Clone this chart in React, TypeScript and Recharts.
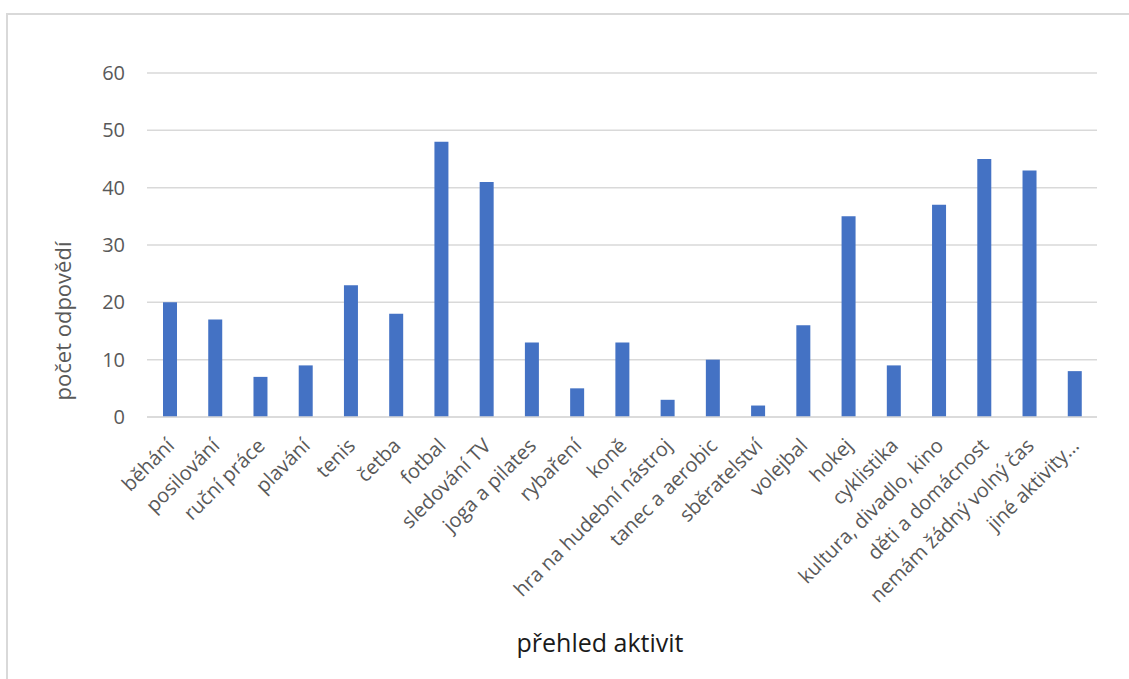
import React from 'react';
import { BarChart, Bar, XAxis, YAxis, CartesianGrid, Label } from 'recharts';

const categories = [
  'běhání', 'posilování', 'ruční práce', 'plavání', 'tenis', 'četba', 'fotbal',
  'sledování TV', 'joga a pilates', 'rybaření', 'koně', 'hra na hudební nástroj',
  'tanec a aerobic', 'sběratelství', 'volejbal', 'hokej', 'cyklistika',
  'kultura, divadlo, kino', 'děti a domácnost', 'nemám žádný volný čas', 'jiné aktivity…',
];
const counts = [20, 17, 7, 9, 23, 18, 48, 41, 13, 5, 13, 3, 10, 2, 16, 35, 9, 37, 45, 43, 8];
const yTicks = [0, 10, 20, 30, 40, 50, 60];

const data = categories.map((name, i) => ({ name, count: counts[i] }));

const FONT = '"Segoe UI", "Open Sans", sans-serif';

function RotatedTick({ x, y, payload }: any) {
  const ax = x + 6;
  const ay = y + 22;
  return (
    <text
      x={ax}
      y={ay}
      transform={`rotate(-45, ${ax}, ${ay})`}
      textAnchor="end"
      fill="#595959"
      fontSize={20}
      fontFamily={FONT}
    >
      {payload.value}
    </text>
  );
}

export default function App() {
  return (
    <div style={{ position: 'absolute', left: 0, top: 0, width: 1129, height: 679, overflow: 'hidden', background: '#fff' }}>
      <div style={{ position: 'absolute', left: 6, top: 13, width: 1160, height: 720, border: '2px solid #d9d9d9' }} />
      <div style={{ position: 'absolute', left: 0, top: 0 }}>
        <BarChart
          width={1129}
          height={679}
          data={data}
          margin={{ top: 73, right: 32, bottom: 0, left: 0 }}
        >
          <CartesianGrid vertical={false} stroke="#d9d9d9" strokeWidth={1.5} />
          <XAxis
            dataKey="name"
            interval={0}
            height={262}
            axisLine={{ stroke: '#d9d9d9', strokeWidth: 1.5 }}
            tickLine={false}
            tick={<RotatedTick />}
          >
            <Label
              content={() => (
                <text x={600} y={652} textAnchor="middle" fill="#1a1a1a" fontSize={25} fontFamily={FONT}>
                  přehled aktivit
                </text>
              )}
            />
          </XAxis>
          <YAxis
            width={147}
            domain={[0, 60]}
            ticks={yTicks}
            axisLine={false}
            tickLine={false}
            tickMargin={16}
            tick={{ fill: '#595959', fontSize: 20, fontFamily: FONT }}
          >
            <Label
              content={() => (
                <text
                  x={62}
                  y={321}
                  transform="rotate(-90, 62, 321)"
                  textAnchor="middle"
                  dominantBaseline="central"
                  fill="#595959"
                  fontSize={22}
                  fontFamily={FONT}
                >
                  počet odpovědí
                </text>
              )}
            />
          </YAxis>
          <Bar dataKey="count" fill="#4472C4" barSize={14} isAnimationActive={false} />
        </BarChart>
      </div>
    </div>
  );
}
